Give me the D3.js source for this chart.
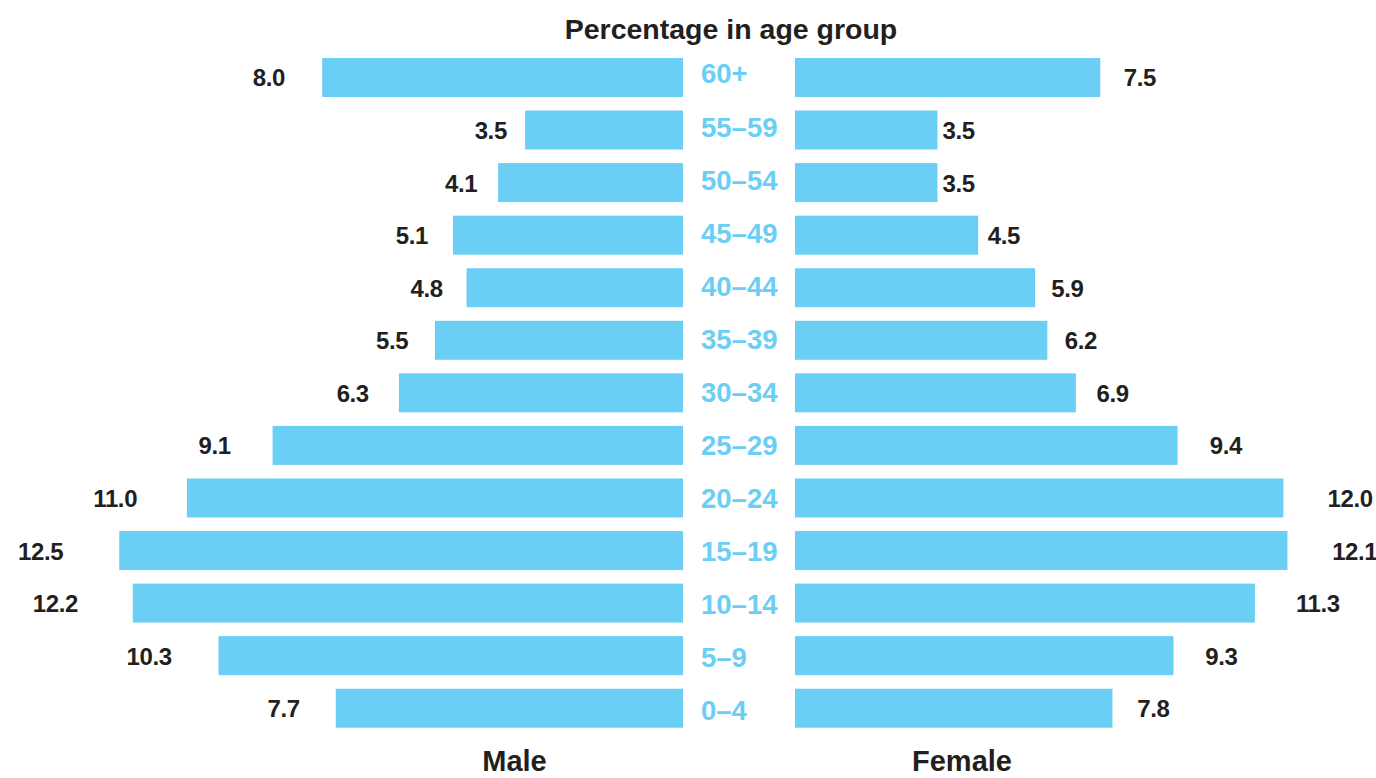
<!DOCTYPE html>
<html>
<head>
<meta charset="utf-8">
<script src="https://cdnjs.cloudflare.com/ajax/libs/d3/7.8.5/d3.min.js"></script>
<style>
	body { margin: 0; background: #ffffff; }
	svg text { font-family: "Liberation Sans", Arial, sans-serif; font-weight: bold; }
</style>
</head>
<body>
<svg id="pyramidSVG" width="1376" height="778"></svg>
<script>

var ageGroups = ["60+", "55\u201359", "50\u201354", "45\u201349", "40\u201344", "35\u201339", "30\u201334", "25\u201329", "20\u201324", "15\u201319", "10\u201314", "5\u20139", "0\u20134"];
var maleValues = [8.0, 3.5, 4.1, 5.1, 4.8, 5.5, 6.3, 9.1, 11.0, 12.5, 12.2, 10.3, 7.7];
var femaleValues = [7.5, 3.5, 3.5, 4.5, 5.9, 6.2, 6.9, 9.4, 12.0, 12.1, 11.3, 9.3, 7.8];

var titleText = "Percentage in age group";
var sideLabels = ["Male", "Female"];

var barColor = "#6bcef5";
var textColor = "#231f20";

renderPyramid("#pyramidSVG");

function renderPyramid(element) {

	var svg = d3.select(element);

	var rows = ageGroups.map(function(age, i) {
		return {"age" : age, "male" : maleValues[i], "female" : femaleValues[i]};
	});

	var yScale = d3.scaleBand()
		.domain(ageGroups)
		.range([58, 727.7])
		.paddingInner(0.258)
		.paddingOuter(0);

	// the two sides of the original are not drawn to the same scale
	var maleScale = d3.scaleLinear().domain([0, 1]).range([683, 683 - 45.1]);
	var femaleScale = d3.scaleLinear().domain([0, 1]).range([795, 795 + 40.7]);

	var maleLabelScale = d3.scaleLinear().domain([0, 1]).range([679.4, 679.4 - 49.3]);
	var femaleLabelScale = d3.scaleLinear().domain([0, 1]).range([784, 784 + 45.3]);

	svg.append("text")
		.attr("x", 731)
		.attr("y", 39)
		.attr("text-anchor", "middle")
		.attr("font-size", 28.5)
		.attr("fill", textColor)
		.text(titleText);

	var bars = svg.append("g").attr("class", "bars");

	bars.selectAll("rect.male")
		.data(rows)
		.enter()
		.append("rect")
		.attr("class", "male")
		.attr("x", d => maleScale(d.male))
		.attr("y", d => yScale(d.age))
		.attr("width", d => maleScale(0) - maleScale(d.male))
		.attr("height", yScale.bandwidth())
		.attr("fill", barColor);

	bars.selectAll("rect.female")
		.data(rows)
		.enter()
		.append("rect")
		.attr("class", "female")
		.attr("x", femaleScale(0))
		.attr("y", d => yScale(d.age))
		.attr("width", d => femaleScale(d.female) - femaleScale(0))
		.attr("height", yScale.bandwidth())
		.attr("fill", barColor);

	var labels = svg.append("g").attr("class", "labels");

	labels.selectAll("text.maleValue")
		.data(rows)
		.enter()
		.append("text")
		.attr("class", "maleValue")
		.attr("x", d => maleLabelScale(d.male))
		.attr("y", d => yScale(d.age) + yScale.bandwidth() / 2 + 9)
		.attr("text-anchor", "end")
		.attr("font-size", 24)
		.attr("letter-spacing", -0.4)
		.attr("fill", textColor)
		.text(d => d.male.toFixed(1));

	labels.selectAll("text.femaleValue")
		.data(rows)
		.enter()
		.append("text")
		.attr("class", "femaleValue")
		.attr("x", d => femaleLabelScale(d.female))
		.attr("y", d => yScale(d.age) + yScale.bandwidth() / 2 + 9)
		.attr("text-anchor", "start")
		.attr("font-size", 24)
		.attr("letter-spacing", -0.4)
		.attr("fill", textColor)
		.text(d => d.female.toFixed(1));

	labels.selectAll("text.age")
		.data(rows)
		.enter()
		.append("text")
		.attr("class", "age")
		.attr("x", 701)
		.attr("y", function(d, i) {
			return yScale(d.age) + yScale.bandwidth() / 2 + 6 + i * 0.45;
		})
		.attr("text-anchor", "start")
		.attr("font-size", 27.5)
		.attr("fill", barColor)
		.text(d => d.age);

	svg.append("g")
		.selectAll("text.side")
		.data(sideLabels)
		.enter()
		.append("text")
		.attr("class", "side")
		.attr("x", (d, i) => i == 0 ? 514.5 : 962)
		.attr("y", 771)
		.attr("text-anchor", "middle")
		.attr("font-size", 29)
		.attr("fill", textColor)
		.text(d => d);

}

</script>
</body>
</html>
